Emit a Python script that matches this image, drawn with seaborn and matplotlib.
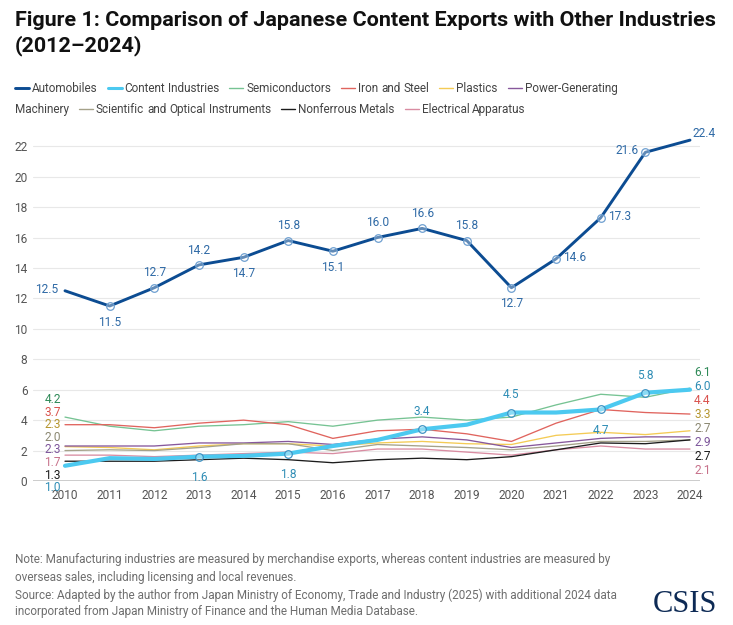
import matplotlib
matplotlib.use("Agg")
import matplotlib.pyplot as plt
from matplotlib.lines import Line2D
import seaborn as sns
import numpy as np
import pandas as pd

# ---------------- data ----------------
years = list(range(2010, 2025))
automobiles = [12.5, 11.5, 12.7, 14.2, 14.7, 15.8, 15.1, 16.0, 16.6, 15.8, 12.7, 14.6, 17.3, 21.6, 22.4]
content = [1.0, 1.5, 1.45, 1.6, 1.65, 1.8, 2.3, 2.7, 3.4, 3.7, 4.5, 4.5, 4.7, 5.8, 6.0]
semiconductors = [4.2, 3.6, 3.3, 3.6, 3.7, 3.9, 3.6, 4.0, 4.2, 4.0, 4.2, 5.0, 5.7, 5.5, 6.1]
iron_steel = [3.7, 3.7, 3.5, 3.8, 4.0, 3.7, 2.8, 3.3, 3.4, 3.1, 2.6, 3.8, 4.7, 4.5, 4.4]
plastics = [2.26, 2.2, 2.05, 2.3, 2.45, 2.45, 2.3, 2.5, 2.6, 2.45, 2.4, 3.0, 3.2, 3.05, 3.3]
power_gen = [2.3, 2.3, 2.3, 2.5, 2.5, 2.6, 2.4, 2.75, 2.9, 2.7, 2.2, 2.5, 2.8, 2.9, 2.9]
scientific = [2.0, 2.05, 2.0, 2.2, 2.45, 2.45, 2.0, 2.4, 2.3, 2.2, 2.05, 2.3, 2.6, 2.6, 2.7]
nonferrous = [1.3, 1.3, 1.3, 1.4, 1.5, 1.4, 1.2, 1.4, 1.5, 1.4, 1.6, 2.05, 2.5, 2.45, 2.7]
electrical = [1.7, 1.7, 1.6, 1.7, 1.8, 1.9, 1.8, 2.1, 2.1, 1.9, 1.7, 2.05, 2.3, 2.1, 2.1]

series_names = ["Automobiles", "Content Industries", "Semiconductors", "Iron and Steel",
                "Plastics", "Power-Generating Machinery", "Scientific and Optical Instruments",
                "Nonferrous Metals", "Electrical Apparatus"]
y_ticks = list(range(0, 23, 2))

title_lines = ["Figure 1: Comparison of Japanese Content Exports with Other Industries",
               "(2012\u20132024)"]
note_lines = ["Note: Manufacturing industries are measured by merchandise exports, whereas content industries are measured by",
              "overseas sales, including licensing and local revenues."]
source_lines = ["Source: Adapted by the author from Japan Ministry of Economy, Trade and Industry (2025) with additional 2024 data",
                "incorporated from Japan Ministry of Finance and the Human Media Database."]

# ---------------- style ----------------
values = {
    "Automobiles": automobiles,
    "Content Industries": content,
    "Semiconductors": semiconductors,
    "Iron and Steel": iron_steel,
    "Plastics": plastics,
    "Power-Generating Machinery": power_gen,
    "Scientific and Optical Instruments": scientific,
    "Nonferrous Metals": nonferrous,
    "Electrical Apparatus": electrical,
}
line_colors = {
    "Automobiles": "#0c4c92",
    "Content Industries": "#4cc9f0",
    "Semiconductors": "#76c393",
    "Iron and Steel": "#e0645e",
    "Plastics": "#f4cb55",
    "Power-Generating Machinery": "#87589c",
    "Scientific and Optical Instruments": "#a5a28a",
    "Nonferrous Metals": "#1c1c1c",
    "Electrical Apparatus": "#d98ca2",
}
label_colors = {
    "Automobiles": "#2f6aa6",
    "Content Industries": "#2f8db5",
    "Semiconductors": "#2f8a58",
    "Iron and Steel": "#d9534f",
    "Plastics": "#b5962f",
    "Power-Generating Machinery": "#7d569b",
    "Scientific and Optical Instruments": "#8b8872",
    "Nonferrous Metals": "#1c1c1c",
    "Electrical Apparatus": "#c7718a",
}
line_widths = {n: 0.95 for n in series_names}
line_widths["Automobiles"] = 2.1
line_widths["Content Industries"] = 3.0

W, H, DPI = 733, 625, 100
sns.set_theme(style="white")
plt.rcParams["font.family"] = ["Roboto", "DejaVu Sans"]

fig = plt.figure(figsize=(W / DPI, H / DPI), dpi=DPI)
fig.patch.set_facecolor("white")


def fx(px):
    return px / W


def fy(py):
    return 1 - py / H


ax_left, ax_right, ax_top_px, ax_bottom_px = 33, 700, 131, 481
ax = fig.add_axes([fx(ax_left), fy(ax_bottom_px), fx(ax_right - ax_left),
                   (ax_bottom_px - ax_top_px) / H])
ax.set_facecolor("white")

# draw thin lines first, then content, then automobiles
draw_order = ["Semiconductors", "Iron and Steel", "Plastics", "Power-Generating Machinery",
              "Scientific and Optical Instruments", "Electrical Apparatus", "Nonferrous Metals",
              "Content Industries", "Automobiles"]
for z, name in enumerate(draw_order):
    df = pd.DataFrame({"year": years, "value": values[name]})
    sns.lineplot(data=df, x="year", y="value", color=line_colors[name],
                 linewidth=line_widths[name], ax=ax, zorder=3 + z * 0.1)

# markers
auto_marker_idx = list(range(1, 14))
content_marker_idx = [3, 5, 8, 10, 12, 13]
ax.scatter([years[i] for i in auto_marker_idx], [automobiles[i] for i in auto_marker_idx],
           s=30, facecolor=(1, 1, 1, 0.35), edgecolor="#6e9fd0", linewidth=0.9, zorder=6)
ax.scatter([years[i] for i in content_marker_idx], [content[i] for i in content_marker_idx],
           s=30, facecolor=(1, 1, 1, 0.35), edgecolor="#3d93c4", linewidth=0.9, zorder=6)

ax.set_xlim(2010 - 32 / 44.64, 2024 + 10 / 44.64)
ax.set_ylim(0, 23)
ax.set_yticks(y_ticks)
ax.set_xticks(years)
ax.set_xticklabels([str(y) for y in years])
ax.set_xlabel("")
ax.set_ylabel("")
ax.tick_params(axis="both", length=0, labelsize=8.6, labelcolor="#555555")
ax.tick_params(axis="x", pad=6)
ax.tick_params(axis="y", pad=4)
for s in ax.spines.values():
    s.set_visible(False)
ax.grid(axis="y", color="#e8e8e8", linewidth=0.8, zorder=0)
ax.grid(axis="x", visible=False)
ax.axhline(0, color="#c4c4c4", linewidth=1.2, zorder=2)

LFS = 8.6
# automobile labels
auto_pos = ["left", "below", "above", "above", "below", "above", "below", "above", "above",
            "above", "below", "right", "right", "left", "right"]
offsets = {"above": ((0, 6), "center", "bottom"), "below": ((0, -7), "center", "top"),
           "left": ((-5, 1), "right", "center"), "right": ((5, 1), "left", "center")}
for yr, v, p in zip(years, automobiles, auto_pos):
    off, ha, va = offsets[p]
    if yr == years[-1]:
        off = (2, 5)
    ax.annotate(f"{v:.1f}", (yr, v), xytext=off, textcoords="offset points", ha=ha, va=va,
                fontsize=LFS, color=label_colors["Automobiles"], zorder=7,
                annotation_clip=False)

# content labels (middle points)
content_pos = {3: "below", 5: "below", 8: "above", 10: "above", 12: "below", 13: "above"}
for i, p in content_pos.items():
    off, ha, va = offsets[p]
    off = (off[0], off[1] * 1.5 if p == "below" else off[1] + 2)
    ax.annotate(f"{content[i]:.1f}", (years[i], content[i]), xytext=off,
                textcoords="offset points", ha=ha, va=va, fontsize=LFS,
                color=label_colors["Content Industries"], zorder=7)

# stacked start / end labels
start_order = ["Semiconductors", "Iron and Steel", "Plastics", "Scientific and Optical Instruments",
               "Power-Generating Machinery", "Electrical Apparatus", "Nonferrous Metals",
               "Content Industries"]
end_order = ["Semiconductors", "Content Industries", "Iron and Steel", "Plastics",
             "Scientific and Optical Instruments", "Power-Generating Machinery",
             "Nonferrous Metals", "Electrical Apparatus"]


def stack(order, idx, spacing, ha, dx):
    vals = [values[n][idx] for n in order]
    c = np.mean(vals) + 0.15
    n = len(vals)
    for i, name in enumerate(order):
        ypos = c + ((n - 1) / 2 - i) * spacing
        ax.annotate(f"{values[name][idx]:.1f}", (years[idx], ypos), xytext=(dx, 0),
                    textcoords="offset points", ha=ha, va="center", fontsize=LFS,
                    color=label_colors[name], zorder=7, annotation_clip=False)


stack(start_order, 0, 0.83, "right", -3)
stack(end_order, -1, 0.92, "left", 3)

# ---------------- title ----------------
renderer = fig.canvas.get_renderer()


def fit_text(txt, x_px, y_px, target_w, **kw):
    t = fig.text(fx(x_px), fy(y_px), txt, **kw)
    w = t.get_window_extent(renderer=renderer).width
    t.set_fontsize(t.get_fontsize() * target_w / w)
    return t


t1 = fit_text(title_lines[0], 15, 21, 700, fontsize=13, fontweight="bold", color="#111111",
              va="center", ha="left")
fig.text(fx(15), fy(46), title_lines[1], fontsize=t1.get_fontsize(), fontweight="bold",
         color="#111111", va="center", ha="left")

# ---------------- legend (flow layout) ----------------
leg_fs = 8.5
x0, max_x = 15, 660
row_y = [88, 109]
handle_w, handle_gap, item_gap = 14, 3, 10
base_off = 4.0  # px from row centre to text baseline


def tw(s):
    t = fig.text(0, 0, s, fontsize=leg_fs)
    w = t.get_window_extent(renderer=renderer).width
    t.remove()
    return w


space_w = tw("a b") - tw("ab")
x, row = x0, 0
for name in series_names:
    words = name.split(" ")
    if x + handle_w + handle_gap + tw(words[0]) > max_x:
        row += 1
        x = x0
    yy = row_y[row]
    fig.add_artist(Line2D([fx(x), fx(x + handle_w)], [fy(yy), fy(yy)],
                          color=line_colors[name], linewidth=min(line_widths[name], 2.2)
                          if line_widths[name] > 1 else 1.0,
                          transform=fig.transFigure))
    x += handle_w + handle_gap
    for k, wd in enumerate(words):
        ww = tw(wd)
        if k > 0:
            if x + space_w + ww > max_x:
                row += 1
                x = x0
                yy = row_y[row]
            else:
                x += space_w
        fig.text(fx(x), fy(yy + base_off), wd, fontsize=leg_fs, color="#444444",
                 va="baseline", ha="left")
        x += ww
    x += item_gap

# ---------------- notes ----------------
n1 = fit_text(note_lines[0], 15, 560, 605, fontsize=8, color="#6e6e6e", va="center", ha="left")
nfs = n1.get_fontsize()
fig.text(fx(15), fy(577), note_lines[1], fontsize=nfs, color="#6e6e6e", va="center", ha="left")
fig.text(fx(15), fy(595), source_lines[0], fontsize=nfs, color="#6e6e6e", va="center", ha="left")
fig.text(fx(15), fy(611), source_lines[1], fontsize=nfs, color="#6e6e6e", va="center", ha="left")

fig.text(fx(717), fy(605), "CSIS", fontsize=22, color="#0d2a55", va="center", ha="right",
         family=["Liberation Serif", "DejaVu Serif"])

fig.savefig("out.png", dpi=DPI, facecolor="white")
